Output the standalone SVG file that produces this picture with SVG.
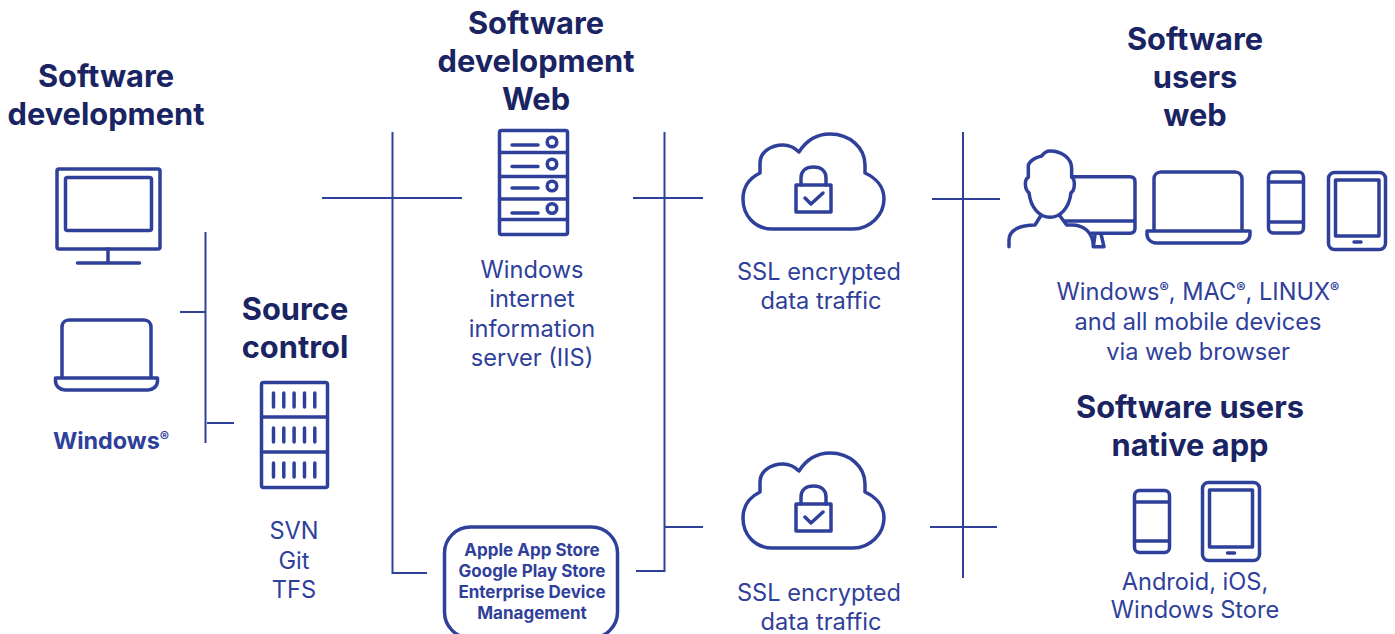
<svg xmlns="http://www.w3.org/2000/svg" width="1395" height="634" viewBox="0 0 1395 634">
<style>
text{font-family:Inter,"Liberation Sans",sans-serif;text-anchor:middle}
.h{font-size:30.800px;font-weight:700;fill:#1a2463}
.b{font-size:23.600px;font-weight:400;fill:#2f409b}
.s{font-size:17px;font-weight:700;fill:#2f409b}
.w{font-size:23.400px;font-weight:700;fill:#2f409b}
.sup{font-size:14px;font-weight:700}
.i{fill:none;stroke:#2f409b;stroke-width:3.500;stroke-linejoin:round;stroke-linecap:round}
.c{fill:none;stroke:#2f409b;stroke-width:2}
</style>
<defs>
<g id="cloud"><path class="i" d="M773 229C754 229 743 215 743 199C743 187 750 178 760 173V163C760 152 771 145 783 145C790 145 795 148 799 152C806 141 817 134 830 134C850 134 865 148 865 165V173C876 178 884 187 884 199C884 215 870 229 853 229Z"/><rect class="i" x="796" y="185" width="35" height="27"/><path class="i" d="M801 185V178C801 171 806 167 813.500 167C821 167 826 171 826 178V185M805 198L811 204L823 193"/></g>
<g id="tick5"><path class="i" d="M0 0V14M10.300 0V14M20.600 0V14M31 0V14M41.300 0V14"/></g>
</defs>
<g id="connectors">
<path class="c" d="M205.500 232V443M180 312H205.500M207 423H234"/>
<path class="c" d="M392.500 132V573H427M322 198H462"/>
<path class="c" d="M664.500 132V571H636M633 198H703M664.500 527H703"/>
<path class="c" d="M963 132V578M932 199H1000M930 527H997"/>
</g>
<g id="software-development"><text class="h" x="106" y="87">Software</text><text class="h" x="106" y="125">development</text>
<rect class="i" x="57" y="169" width="103" height="80" rx="2"/><rect class="i" x="65.500" y="177.500" width="86" height="53" rx="2"/><path class="i" d="M108 249V263M77.500 263H139.500"/>
<path class="i" d="M62 378V327C62 323 65 320 69 320H144C148 320 151 323 151 327V378M55.500 378H157.500V381C157.500 386 153 390 148 390H65C60 390 55.500 386 55.500 381Z"/>
<text class="w" x="111" y="449">Windows<tspan class="sup" dy="-7">®</tspan></text></g>
<g id="source-control"><text class="h" x="295" y="320">Source</text><text class="h" x="295" y="358">control</text>
<rect class="i" x="261.500" y="382.500" width="66" height="105" rx="2"/><path class="i" d="M261.500 417H327.500M261.500 452H327.500"/>
<use href="#tick5" x="273.500" y="393"/><use href="#tick5" x="273.500" y="428"/><use href="#tick5" x="273.500" y="463"/>
<text class="b" x="294" y="539">SVN</text><text class="b" x="294" y="569">Git</text><text class="b" x="294" y="598">TFS</text></g>
<g id="web-server"><text class="h" x="536" y="33.500">Software</text><text class="h" x="536" y="71.500">development</text><text class="h" x="536" y="109.500">Web</text>
<rect class="i" x="499.500" y="130.500" width="68" height="104" rx="2"/><path class="i" d="M499.500 152.500H567.500M499.500 176.500H567.500M499.500 199H567.500M499.500 219.500H567.500M512 145H538M512 166.500H538M512 188H538M512 213H538"/>
<circle class="i" cx="552" cy="142" r="4.800"/><circle class="i" cx="552" cy="164" r="4.800"/><circle class="i" cx="552" cy="186" r="4.800"/><circle class="i" cx="552" cy="208.500" r="4.800"/>
<text class="b" x="532" y="278">Windows</text><text class="b" x="532" y="307">internet</text><text class="b" x="532" y="337">information</text><text class="b" x="532" y="366">server (IIS)</text></g>
<g id="app-stores"><rect class="i" x="444.500" y="527" width="173" height="111" rx="26"/>
<text class="s" x="532" y="556">Apple App Store</text><text class="s" x="532" y="577">Google Play Store</text><text class="s" x="532" y="598">Enterprise Device</text><text class="s" x="532" y="619">Management</text></g>
<g id="ssl-web"><use href="#cloud"/><text class="b" x="819" y="280">SSL encrypted</text><text class="b" x="821" y="309">data traffic</text></g>
<g id="ssl-native"><use href="#cloud" y="319"/><text class="b" x="819" y="601">SSL encrypted</text><text class="b" x="821" y="630">data traffic</text></g>
<g id="users-web"><text class="h" x="1195" y="50">Software</text><text class="h" x="1195" y="88">users</text><text class="h" x="1195" y="126">web</text>
<g transform="translate(1000 140) scale(.3333)"><path class="i" style="stroke-width:10.500" d="M150 33C185 33 215 55 215 85V112C226 118 226 150 213 158C208 205 180 232 150 232C120 232 92 205 87 158C74 150 72 118 85 112V75C92 58 108 52 125 48C132 38 140 33 150 33ZM27 320V300C27 270 60 255 105 255L122 228M180 228L200 255H215C250 255 280 275 280 320M217 110H390Q405 110 405 125V265Q405 280 390 280H275M195 243H405M285 285L280 320H312L303 282"/></g>
<path class="i" d="M1154 231V179C1154 175 1157 172 1161 172H1235C1239 172 1242 175 1242 179V231M1147 231H1250V234C1250 239 1246 243 1241 243H1156C1151 243 1147 239 1147 234Z"/>
<rect class="i" x="1268.500" y="172" width="35" height="61" rx="5"/><path class="i" d="M1268.500 182H1303.500M1268.500 222H1303.500"/>
<rect class="i" x="1328.500" y="172.500" width="57" height="77" rx="6"/><rect class="i" x="1335.500" y="180" width="43.500" height="56"/><path class="i" d="M1354 242H1361"/>
<text class="b" x="1198" y="300">Windows<tspan class="sup" dy="-7">®</tspan><tspan dy="7">, MAC</tspan><tspan class="sup" dy="-7">®</tspan><tspan dy="7">, LINUX</tspan><tspan class="sup" dy="-7">®</tspan></text><text class="b" x="1198" y="330">and all mobile devices</text><text class="b" x="1198" y="360">via web browser</text></g>
<g id="users-native"><text class="h" x="1190" y="418">Software users</text><text class="h" x="1190" y="456">native app</text>
<rect class="i" x="1134.500" y="490.500" width="35" height="62" rx="5"/><path class="i" d="M1134.500 502H1169.500M1134.500 541H1169.500"/>
<rect class="i" x="1202.500" y="482.500" width="57" height="78" rx="6"/><rect class="i" x="1209.500" y="490" width="43" height="57"/><path class="i" d="M1227.500 553H1234.500"/>
<text class="b" x="1195" y="590">Android, iOS,</text><text class="b" x="1195" y="618">Windows Store</text></g>
</svg>
